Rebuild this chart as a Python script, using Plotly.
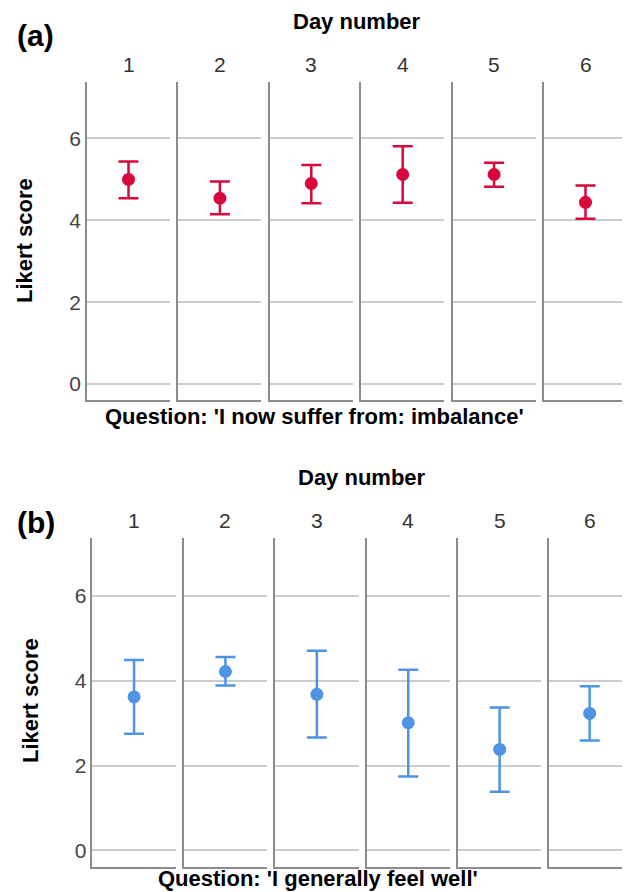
import plotly.graph_objects as go

# ---- data ----
days = [1, 2, 3, 4, 5, 6]
day_labels = ["1", "2", "3", "4", "5", "6"]
y_ticks = [0, 2, 4, 6]
y_tick_labels = ["0", "2", "4", "6"]

# (a) 'I now suffer from: imbalance'
a_mean = [5.00, 4.54, 4.90, 5.12, 5.12, 4.44]
a_upper = [5.44, 4.95, 5.35, 5.81, 5.41, 4.85]
a_lower = [4.54, 4.15, 4.42, 4.43, 4.82, 4.04]

# (b) 'I generally feel well'
b_mean = [3.62, 4.22, 3.68, 3.01, 2.38, 3.23]
b_upper = [4.49, 4.56, 4.71, 4.26, 3.37, 3.87]
b_lower = [2.75, 3.89, 2.66, 1.74, 1.38, 2.59]

OFF = 8  # page body margin
W, H = 630 - OFF, 892 - OFF
FONT = "Liberation Sans"
RED = "#D7083B"
BLUE = "#4E93E4"


def px(x, y):
    return (x - OFF) / W, 1 - (y - OFF) / H


panels = [
    dict(mean=a_mean, upper=a_upper, lower=a_lower, color=RED,
         left=87.0, step=91.4, width=83.0, top=82.0, bottom=400.0,
         label="(a)", label_xy=(35, 35), day_xy=(357, 22), fac_y=64,
         ylab_xy=(25, 241), q_text="Question: 'I now suffer from: imbalance'", q_xy=(314, 416)),
    dict(mean=b_mean, upper=b_upper, lower=b_lower, color=BLUE,
         left=92.3, step=91.4, width=83.5, top=537.7, bottom=866.7,
         label="(b)", label_xy=(36, 522), day_xy=(362, 477), fac_y=520,
         ylab_xy=(30, 701), q_text="Question: 'I generally feel well'", q_xy=(318, 878)),
]

YRANGE = [-0.39, 7.38]

fig = go.Figure()
layout = dict(width=W, height=H, margin=dict(l=0, r=0, t=0, b=0),
              paper_bgcolor="white", plot_bgcolor="white", showlegend=False)
annotations = []

for p, P in enumerate(panels):
    y0 = 1 - (P["bottom"] - OFF) / H
    y1 = 1 - (P["top"] - OFF) / H
    for i, d in enumerate(days):
        k = p * 6 + i + 1
        xs = "x" if k == 1 else f"x{k}"
        ys = "y" if k == 1 else f"y{k}"
        xn = "xaxis" if k == 1 else f"xaxis{k}"
        yn = "yaxis" if k == 1 else f"yaxis{k}"
        xl = P["left"] + P["step"] * i - OFF
        xr = min(xl + P["width"], W)
        m = P["mean"][i]
        fig.add_trace(go.Scatter(
            x=[d], y=[m], xaxis=xs, yaxis=ys, mode="markers",
            marker=dict(color=P["color"], size=13),
            error_y=dict(type="data", symmetric=False,
                         array=[P["upper"][i] - m], arrayminus=[m - P["lower"][i]],
                         color=P["color"], thickness=2.5, width=10),
            hoverinfo="skip"))
        layout[xn] = dict(domain=[xl / W, xr / W], range=[d - 0.5, d + 0.5],
                          anchor=ys, showgrid=False, zeroline=False,
                          showticklabels=False, ticks="",
                          showline=True, linecolor="#8c8c8c", linewidth=1.5,
                          fixedrange=True)
        layout[yn] = dict(domain=[y0, y1], range=YRANGE, anchor=xs,
                          tickvals=y_ticks, ticktext=y_tick_labels,
                          showticklabels=(i == 0), ticks="",
                          tickfont=dict(family=FONT, size=21, color="#444444"),
                          showgrid=True, gridcolor="#cccccc", gridwidth=2,
                          zeroline=False, showline=True, linecolor="#8c8c8c",
                          linewidth=1.5, fixedrange=True)
        # facet label
        annotations.append(dict(x=d, xref=xs, y=1 - (P["fac_y"] - OFF) / H, yref="paper",
                                text=day_labels[i], showarrow=False,
                                xanchor="center", yanchor="middle",
                                font=dict(family=FONT, size=21, color="#333333")))
    lx, ly = px(*P["label_xy"])
    annotations.append(dict(x=lx, y=ly, xref="paper", yref="paper",
                            text=f"<b>{P['label']}</b>", showarrow=False,
                            xanchor="center", yanchor="middle",
                            font=dict(family=FONT, size=30, color="black")))
    dx, dy = px(*P["day_xy"])
    annotations.append(dict(x=dx, y=dy, xref="paper", yref="paper",
                            text="<b>Day number</b>", showarrow=False,
                            xanchor="center", yanchor="middle",
                            font=dict(family=FONT, size=22, color="black")))
    vx, vy = px(*P["ylab_xy"])
    annotations.append(dict(x=vx, y=vy, xref="paper", yref="paper",
                            text="<b>Likert score</b>", showarrow=False, textangle=-90,
                            xanchor="center", yanchor="middle",
                            font=dict(family=FONT, size=22, color="black")))
    qx, qy = px(*P["q_xy"])
    annotations.append(dict(x=qx, y=qy, xref="paper", yref="paper",
                            text=f"<b>{P['q_text']}</b>", showarrow=False,
                            xanchor="center", yanchor="middle",
                            font=dict(family=FONT, size=22, color="black")))

layout["annotations"] = annotations
fig.update_layout(**layout)
fig.write_html("out.html")
